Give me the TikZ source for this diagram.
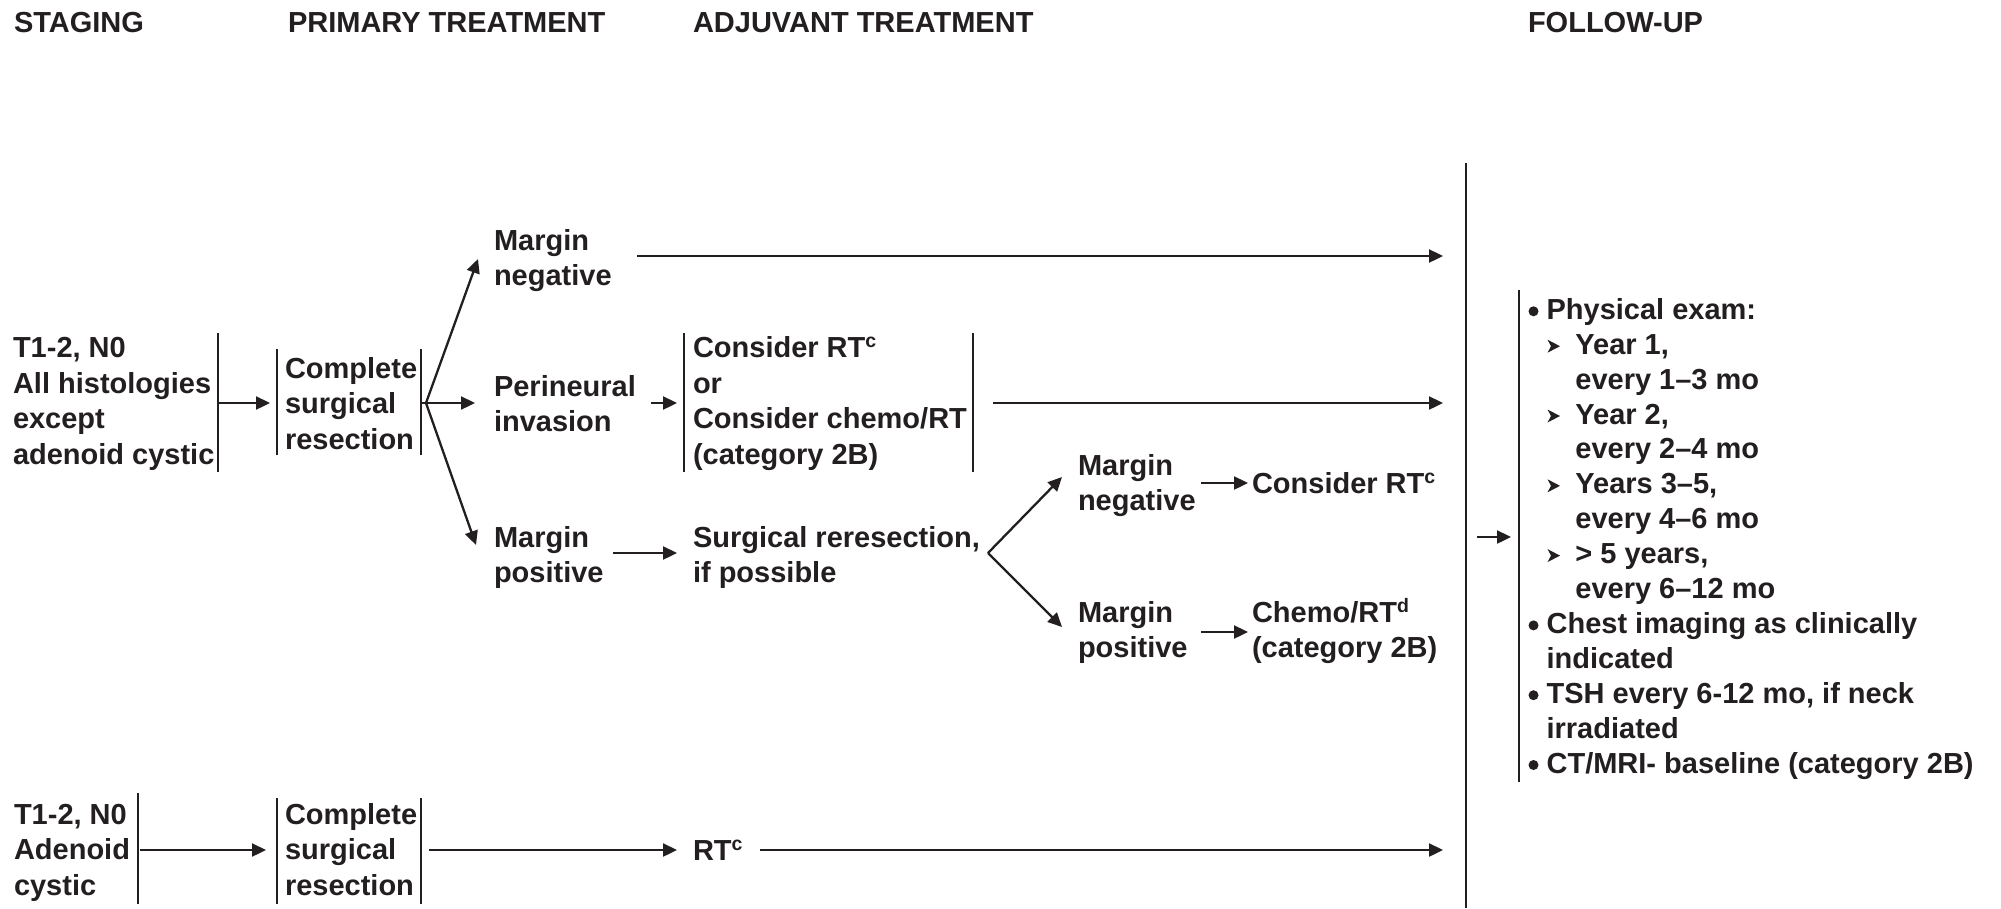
\documentclass[tikz,border=0pt]{standalone}
\usepackage{fontspec}
\setmainfont{Liberation Sans}
\usetikzlibrary{arrows.meta}
\definecolor{ink}{HTML}{231F20}
\newcommand\supr[1]{\raisebox{10pt}{\fontsize{19.5}{19.5}\selectfont #1}}
\newcommand\fub{\hspace*{18.6pt}}
\newcommand\fuind{\hspace*{47.4pt}}
\newcommand\fuwrap{\hspace*{18.6pt}}
\begin{document}
\begin{tikzpicture}[x=1pt,y=-1pt,
  txt/.style={font=\fontsize{29}{35.5}\selectfont\bfseries, text=ink, inner sep=0pt, outer sep=0pt, align=left, anchor=base west},
  futxt/.style={txt, font=\fontsize{29}{34.9}\selectfont\bfseries},
  bar/.style={draw=ink, line width=2.3pt},
  link/.style={draw=ink, line width=2.3pt},
  arr/.style={link, -{Triangle[length=14pt,width=13pt]}},
  subarr/.style={fill=ink},
  dot/.style={fill=ink}]
\useasboundingbox (0,0) rectangle (2001,908);

% headers
\node[txt] (h1) at (14,32.5) {STAGING};
\node[txt] (h2) at (288,32.5) {PRIMARY TREATMENT};
\node[txt] (h3) at (693,32.5) {ADJUVANT TREATMENT};
\node[txt] (h4) at (1528,32.5) {FOLLOW-UP};

% ---------- row 1 ----------  (node positions = baseline of LAST line)
\node[txt] (st1) at (13,464) {T1-2, N0\\All histologies\\except\\adenoid cystic};
\coordinate (s1t) at (218,333); \coordinate (s1b) at (218,472); \coordinate (s1m) at (218,403);
\draw[bar] (s1t) -- (s1b);

\node[txt] (cs1) at (285,449) {Complete\\surgical\\resection};
\coordinate (c1lt) at (277,349); \coordinate (c1lb) at (277,455); \coordinate (c1l) at (277,403);
\coordinate (c1rt) at (421,349); \coordinate (c1rb) at (421,455); \coordinate (c1r) at (421,403);
\draw[bar] (c1lt) -- (c1lb);
\draw[bar] (c1rt) -- (c1rb);
\draw[arr, shorten >=7pt] (s1m) -- (c1l);

\coordinate (fan1) at (426,403);
\coordinate (tipneg) at (478,259);
\coordinate (tippni) at (475,403);
\coordinate (tippos) at (476,545);
\draw[link] (c1r) -- (fan1);
\draw[arr] (fan1) -- (tipneg);
\draw[arr] (fan1) -- (tippni);
\draw[arr] (fan1) -- (tippos);

% margin negative
\node[txt] (mneg1) at (494,285.5) {Margin\\negative};
\coordinate (mneg1o) at (637,256);
\coordinate (fuin1) at (1443,256);
\draw[arr] (mneg1o) -- (fuin1);

% perineural
\node[txt] (pni) at (494,431.5) {Perineural\\invasion};
\coordinate (pnio) at (651,403);
\node[txt] (crt) at (693,464) {Consider RT\supr{c}\\or\\Consider chemo/RT\\(category 2B)};
\coordinate (crtlt) at (684,333); \coordinate (crtlb) at (684,472); \coordinate (crtl) at (684,403);
\coordinate (crtrt) at (973,333); \coordinate (crtrb) at (973,472);
\draw[bar] (crtlt) -- (crtlb);
\draw[bar] (crtrt) -- (crtrb);
\draw[arr, shorten >=7pt] (pnio) -- (crtl);
\coordinate (crto) at (993,403);
\coordinate (fuin2) at (1443,403);
\draw[arr] (crto) -- (fuin2);

% margin positive
\node[txt] (mpos1) at (494,582.5) {Margin\\positive};
\coordinate (mpos1o) at (613,553);
\coordinate (srrin) at (677,553);
\draw[arr] (mpos1o) -- (srrin);
\node[txt] (srr) at (693,582.5) {Surgical reresection,\\if possible};
\coordinate (fan2) at (988,553);
\coordinate (tipneg2) at (1062,477);
\coordinate (tippos2) at (1062,627);
\draw[arr] (fan2) -- (tipneg2);
\draw[arr] (fan2) -- (tippos2);

\node[txt] (mneg2) at (1078,510.5) {Margin\\negative};
\coordinate (mneg2o) at (1201,483);
\coordinate (crt2in) at (1248,483);
\draw[arr] (mneg2o) -- (crt2in);
\node[txt] (crt2) at (1252,493) {Consider RT\supr{c}};

\node[txt] (mpos2) at (1078,657.5) {Margin\\positive};
\coordinate (mpos2o) at (1201,632);
\coordinate (chemoin) at (1248,632);
\draw[arr] (mpos2o) -- (chemoin);
\node[txt] (chemo) at (1252,657.5) {Chemo/RT\supr{d}\\(category 2B)};

% ---------- row 2 ----------
\node[txt] (st2) at (14,895) {T1-2, N0\\Adenoid\\cystic};
\coordinate (s2t) at (138,793); \coordinate (s2b) at (138,904); \coordinate (s2m) at (138,850);
\draw[bar] (s2t) -- (s2b);
\node[txt] (cs2) at (285,895) {Complete\\surgical\\resection};
\coordinate (c2lt) at (277,798); \coordinate (c2lb) at (277,904); \coordinate (c2l) at (277,850);
\coordinate (c2rt) at (421,798); \coordinate (c2rb) at (421,904); \coordinate (c2r) at (421,850);
\draw[bar] (c2lt) -- (c2lb);
\draw[bar] (c2rt) -- (c2rb);
\draw[arr, shorten <=2pt, shorten >=11pt] (s2m) -- (c2l);
\coordinate (rtin) at (677,850);
\draw[arr, shorten <=8pt] (c2r) -- (rtin);
\node[txt] (rt) at (693,860) {RT\supr{c}};
\coordinate (rto) at (760,850);
\coordinate (fuin3) at (1443,850);
\draw[arr] (rto) -- (fuin3);

% ---------- follow-up ----------
\coordinate (vt) at (1466,163); \coordinate (vb) at (1466,908);
\draw[bar, line width=2.6pt] (vt) -- (vb);
\coordinate (fuo) at (1477,537); \coordinate (fubar) at (1519,537);
\draw[arr, shorten >=8pt] (fuo) -- (fubar);
\coordinate (fut) at (1519,290); \coordinate (fub) at (1519,782);
\draw[bar] (fut) -- (fub);

\node[futxt] (fu) at (1528,773) {\fub Physical exam:\\
\fuind Year 1,\\
\fuind every 1–3 mo\\
\fuind Year 2,\\
\fuind every 2–4 mo\\
\fuind Years 3–5,\\
\fuind every 4–6 mo\\
\fuind > 5 years,\\
\fuind every 6–12 mo\\
\fub Chest imaging as clinically\\
\fuwrap indicated\\
\fub TSH every 6-12 mo, if neck\\
\fuwrap irradiated\\
\fub CT/MRI- baseline (category 2B)};

\foreach \b in {319.3,633.4,703.2,773.0}{
  \fill[dot] (1533.5,\b-8) circle[radius=5];
}
\foreach \b in {354.2,424.0,493.8,563.6}{
  \fill[subarr] (1547.5,\b-14.5) -- (1560,\b-8) -- (1547.5,\b-1.5) -- (1551,\b-8) -- cycle;
}
\end{tikzpicture}
\end{document}
